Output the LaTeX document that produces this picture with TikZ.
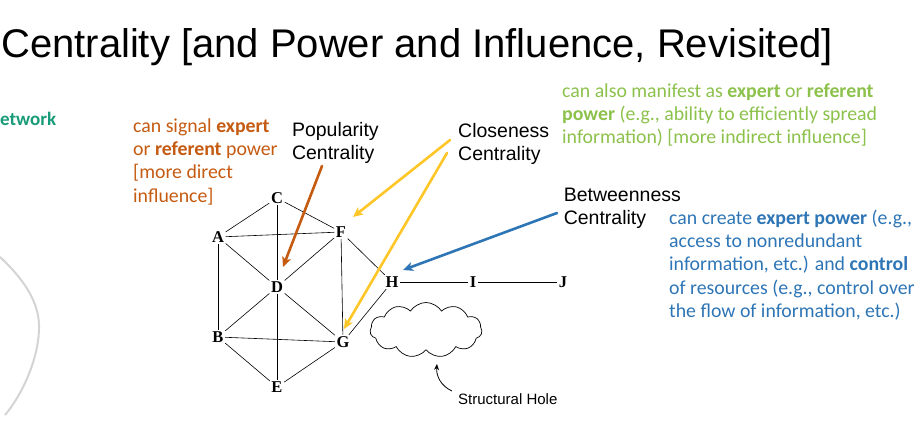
\documentclass[tikz,border=0pt]{standalone}
\usepackage{fontspec}
\setmainfont{Liberation Sans}
\newfontfamily\calib{Carlito}
\newfontfamily\graphfont{Liberation Serif}
\usetikzlibrary{arrows.meta,shapes.symbols}

\definecolor{netteal}{RGB}{24,155,120}
\definecolor{popOrange}{RGB}{197,90,17}
\definecolor{closeGreen}{RGB}{140,193,75}
\definecolor{betwBlue}{RGB}{46,117,182}
\definecolor{arrowYellow}{RGB}{255,198,40}
\definecolor{curveGray}{RGB}{212,212,212}

\tikzset{
  txt/.style={anchor=base west, inner sep=0pt, align=left},
  calibtxt/.style={txt, font=\calib\fontsize{19.8}{23.4}\selectfont},
  arialtxt/.style={txt, font=\fontsize{19.5}{23}\selectfont},
  vertex/.style={inner sep=1.5pt, font=\graphfont\bfseries\fontsize{16.5}{16.5}\selectfont},
  edge/.style={line width=0.6pt, black},
  pointer/.style={line width=2.6pt, line cap=round, -{Stealth[length=10pt,width=9pt,inset=2.5pt]}},
}

\begin{document}
\begin{tikzpicture}[x=1pt,y=-1pt]
\useasboundingbox (0,0) rectangle (922,424);

% heading
\node[txt, font=\fontsize{40}{48}\selectfont] (title) at (1,57)
  {Centrality [and Power and Influence, Revisited]};

% partly hidden label and curve at the left edge
\node[calibtxt, text=netteal, font=\calib\bfseries\fontsize{19}{23}\selectfont] (net) at (0,125) {etwork};
\draw[curveGray, line width=2pt] (0,257) .. controls (30,285) and (40,308) .. (39,330)
  .. controls (38,360) and (22,395) .. (5,415);

% annotations
\node[calibtxt, text=popOrange] (popnote) at (133,132)
  {\vtop{\hbox{can signal \textbf{expert}}\hbox{or \textbf{referent} power}\hbox{[more direct}\hbox{influence]}}};
\node[arialtxt] (pop) at (291.8,136)
  {\vtop{\hbox{Popularity}\hbox{Centrality}}};
\node[arialtxt] (close) at (458,137)
  {\vtop{\hbox{Closeness}\hbox{Centrality}}};
\node[calibtxt, text=closeGreen] (closenote) at (562,97)
  {\vtop{\hbox{can also manifest as \textbf{expert} or \textbf{referent}}\hbox{\textbf{power} (e.g., ability to efficiently spread}\hbox{information) [more indirect influence]}}};
\node[arialtxt] (betw) at (563.6,201)
  {\vtop{\hbox{Betweenness}\hbox{Centrality}}};
\node[calibtxt, text=betwBlue] (betwnote) at (669,224)
  {\vtop{\hbox{can create \textbf{expert power} (e.g.,}\hbox{access to nonredundant}\hbox{information, etc.) and \textbf{control}}\hbox{of resources (e.g., control over}\hbox{the flow of information, etc.)}}};

% network
\node[vertex] (C) at (277,198) {C};
\node[vertex] (A) at (218,237) {A};
\node[vertex] (F) at (341,232) {F};
\node[vertex] (D) at (277,287) {D};
\node[vertex] (H) at (392,282) {H};
\node[vertex] (I) at (473,282) {I};
\node[vertex] (J) at (563,282) {J};
\node[vertex] (B) at (218,337) {B};
\node[vertex] (G) at (343,342) {G};
\node[vertex] (E) at (277,387) {E};

\foreach \u/\v in {A/C, C/F, A/F, A/D, C/D, F/D, F/H, F/G, A/B, B/D, D/G, D/E, B/G, B/E, E/G, G/H, H/I, I/J}
  \draw[edge] (\u) -- (\v);

% structural hole
\node[cloud, draw, cloud puffs=11, cloud puff arc=115, aspect=2.1,
      minimum width=112pt, minimum height=55pt, line width=0.7pt] (hole) at (426,330) {};
\node[txt, font=\fontsize{15}{18}\selectfont] (sh) at (458,404) {Structural Hole};
\coordinate (shA) at (452,391);
\coordinate (shB) at (437,364);
\draw[line width=0.8pt, -{Stealth[length=6pt,width=5pt]}] (shA) .. controls (441,386) and (436,376) .. (shB);

% pointers from the labels into the network
\coordinate (popA) at (322,166);
\coordinate (popB) at (283,267);
\coordinate (clA) at (450,140);
\coordinate (clB) at (353,217);
\coordinate (clC) at (447,153);
\coordinate (clD) at (344,329);
\coordinate (btA) at (557,213);
\coordinate (btB) at (403,270);
\draw[pointer, popOrange] (popA) -- (popB);
\draw[pointer, arrowYellow] (clA) -- (clB);
\draw[pointer, arrowYellow] (clC) -- (clD);
\draw[pointer, betwBlue] (btA) -- (btB);
\end{tikzpicture}
\end{document}
